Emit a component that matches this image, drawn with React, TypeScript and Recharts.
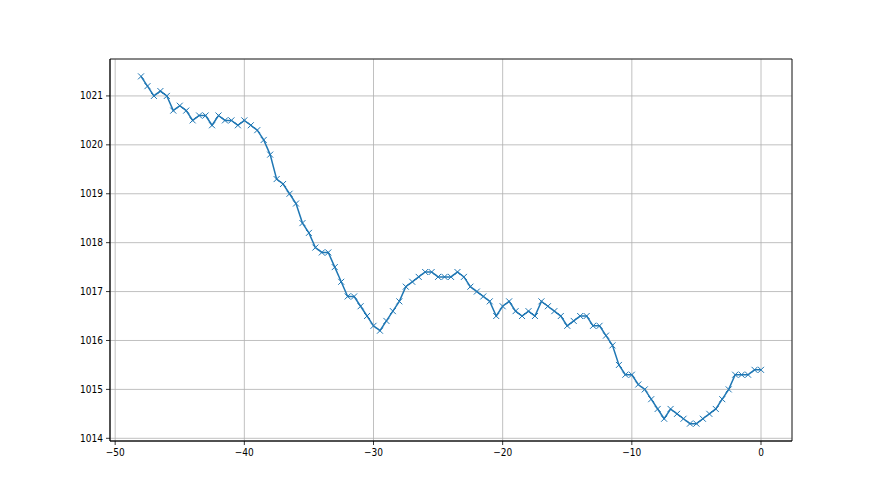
import { LineChart, Line, XAxis, YAxis, CartesianGrid, ReferenceArea } from 'recharts'

// hours before now, every half hour
const hours = [
  -48, -47.5, -47, -46.5, -46, -45.5, -45, -44.5, -44, -43.5, -43, -42.5, -42, -41.5, -41, -40.5,
  -40, -39.5, -39, -38.5, -38, -37.5, -37, -36.5, -36, -35.5, -35, -34.5, -34, -33.5, -33, -32.5,
  -32, -31.5, -31, -30.5, -30, -29.5, -29, -28.5, -28, -27.5, -27, -26.5, -26, -25.5, -25, -24.5,
  -24, -23.5, -23, -22.5, -22, -21.5, -21, -20.5, -20, -19.5, -19, -18.5, -18, -17.5, -17, -16.5,
  -16, -15.5, -15, -14.5, -14, -13.5, -13, -12.5, -12, -11.5, -11, -10.5, -10, -9.5, -9, -8.5,
  -8, -7.5, -7, -6.5, -6, -5.5, -5, -4.5, -4, -3.5, -3, -2.5, -2, -1.5, -1, -0.5, 0,
]

const pressure = [
  1021.4, 1021.2, 1021.0, 1021.1, 1021.0, 1020.7, 1020.8, 1020.7, 1020.5, 1020.6, 1020.6, 1020.4,
  1020.6, 1020.5, 1020.5, 1020.4, 1020.5, 1020.4, 1020.3, 1020.1, 1019.8, 1019.3, 1019.2, 1019.0,
  1018.8, 1018.4, 1018.2, 1017.9, 1017.8, 1017.8, 1017.5, 1017.2, 1016.9, 1016.9, 1016.7, 1016.5,
  1016.3, 1016.2, 1016.4, 1016.6, 1016.8, 1017.1, 1017.2, 1017.3, 1017.4, 1017.4, 1017.3, 1017.3,
  1017.3, 1017.4, 1017.3, 1017.1, 1017.0, 1016.9, 1016.8, 1016.5, 1016.7, 1016.8, 1016.6, 1016.5,
  1016.6, 1016.5, 1016.8, 1016.7, 1016.6, 1016.5, 1016.3, 1016.4, 1016.5, 1016.5, 1016.3, 1016.3,
  1016.1, 1015.9, 1015.5, 1015.3, 1015.3, 1015.1, 1015.0, 1014.8, 1014.6, 1014.4, 1014.6, 1014.5,
  1014.4, 1014.3, 1014.3, 1014.4, 1014.5, 1014.6, 1014.8, 1015.0, 1015.3, 1015.3, 1015.3, 1015.4,
  1015.4,
]

const xTicks = [-50, -40, -30, -20, -10, 0]
const yTicks = [1014, 1015, 1016, 1017, 1018, 1019, 1020, 1021]

const data = hours.map((h, i) => ({ h, p: pressure[i] }))

const X_DOMAIN: [number, number] = [-50.4, 2.4]
const Y_DOMAIN: [number, number] = [1013.945, 1021.755]
const BLUE = '#1f77b4'
const tickStyle = { fontSize: 10, fill: '#000', fontFamily: "'DejaVu Sans Condensed', 'DejaVu Sans'" }

// matplotlib uses a real minus sign
const fmtMinus = (v: number) => String(v).replace('-', '\u2212')

const XMark = (props: any) => {
  const { cx, cy } = props
  if (cx == null || cy == null) return null
  const s = 3
  return (
    <g stroke={BLUE} strokeWidth={1}>
      <line x1={cx - s} y1={cy - s} x2={cx + s} y2={cy + s} />
      <line x1={cx - s} y1={cy + s} x2={cx + s} y2={cy - s} />
    </g>
  )
}

export default function App() {
  return (
    <div style={{ position: 'absolute', left: 0, top: 0, width: 880, height: 495, background: '#fff' }}>
      <LineChart width={880} height={495} data={data} margin={{ top: 59, right: 88, left: 0, bottom: 0 }}>
        <CartesianGrid stroke="#b0b0b0" strokeWidth={0.8} />
        <XAxis
          dataKey="h"
          type="number"
          domain={X_DOMAIN}
          ticks={xTicks}
          allowDataOverflow
          height={54}
          tick={tickStyle}
          tickFormatter={fmtMinus}
          tickSize={4}
          tickMargin={4}
          stroke="#000"
          axisLine={{ stroke: '#000', strokeWidth: 0.8 }}
          tickLine={{ stroke: '#000', strokeWidth: 0.8 }}
        />
        <YAxis
          dataKey="p"
          type="number"
          domain={Y_DOMAIN}
          ticks={yTicks}
          allowDataOverflow
          width={110}
          tick={tickStyle}
          tickSize={4}
          tickMargin={3}
          stroke="#000"
          axisLine={{ stroke: '#000', strokeWidth: 0.8 }}
          tickLine={{ stroke: '#000', strokeWidth: 0.8 }}
        />
        <ReferenceArea
          x1={X_DOMAIN[0]}
          x2={X_DOMAIN[1]}
          y1={Y_DOMAIN[0]}
          y2={Y_DOMAIN[1]}
          fill="none"
          fillOpacity={0}
          stroke="#000"
          strokeWidth={0.8}
          strokeOpacity={1}
        />
        <Line
          type="linear"
          dataKey="p"
          stroke={BLUE}
          strokeWidth={1.5}
          dot={<XMark />}
          activeDot={false}
          isAnimationActive={false}
        />
      </LineChart>
    </div>
  )
}
